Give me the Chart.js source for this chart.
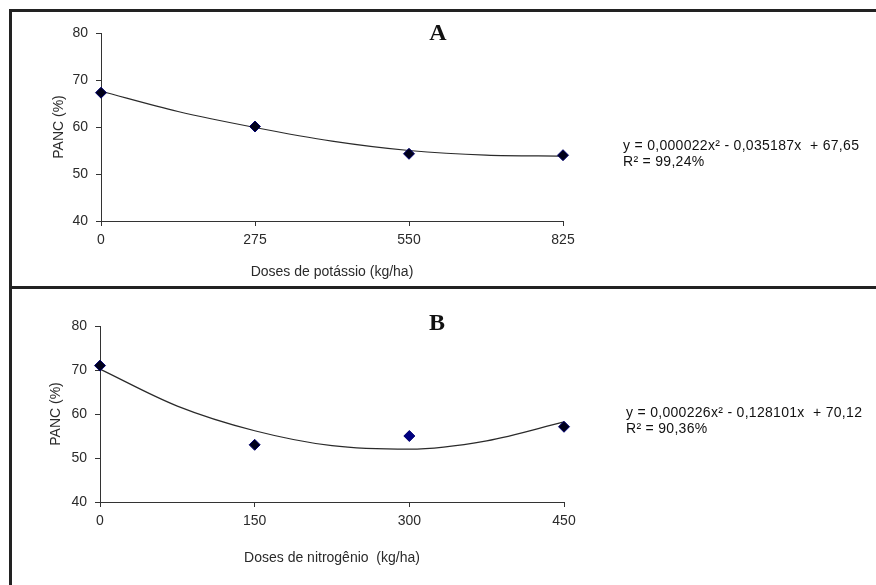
<!DOCTYPE html>
<html><head><meta charset="utf-8">
<script src="https://cdn.jsdelivr.net/npm/chart.js@4.4.1/dist/chart.umd.min.js"></script>
<style>
html,body{margin:0;padding:0;background:#fff;width:876px;height:585px;overflow:hidden;position:relative;font-family:"Liberation Sans",Arial,sans-serif;}
canvas{position:absolute;left:0}
.ln{position:absolute;background:#222}
.lbl{position:absolute;font-family:"Liberation Serif","Times New Roman",serif;font-weight:bold;font-size:24px;color:#111;transform:translate(-50%,-50%);line-height:1}
.eq{position:absolute;font-size:14px;line-height:16px;letter-spacing:0.3px;color:#111;white-space:pre}
</style></head><body>
<canvas id="cA" width="876" height="290" style="top:0"></canvas>
<canvas id="cB" width="876" height="295" style="top:290px"></canvas>
<div class="ln" style="left:9px;top:9px;width:867px;height:3px"></div>
<div class="ln" style="left:9px;top:9px;width:3px;height:576px"></div>
<div class="ln" style="left:9px;top:286px;width:867px;height:3px"></div>
<div class="lbl" style="left:438px;top:32px">A</div>
<div class="lbl" style="left:437px;top:322px">B</div>
<div class="eq" style="left:623px;top:137px">y = 0,000022x² - 0,035187x  + 67,65
R² = 99,24%</div>
<div class="eq" style="left:626px;top:404px">y = 0,000226x² - 0,128101x  + 70,12
R² = 90,36%</div>
<script>
// Panel A: potassium
const doseK = [0, 275, 550, 825];
const pancK = [67.3, 60.1, 54.3, 54.0];
const trendKx = [0, 137.5, 275, 412.5, 550, 687.5, 825];
const trendKy = [67.6, 63.3, 59.9, 57.0, 55.0, 54.0, 53.8];
const ticksK = [0, 275, 550, 825];
// Panel B: nitrogen
const doseN = [0, 150, 300, 450];
const pancN = [71.0, 53.0, 55.0, 57.1];
const trendNx = [0, 75, 150, 225, 300, 375, 450];
const trendNy = [70.2, 61.8, 56.2, 52.8, 52.0, 53.9, 58.2];
const ticksN = [0, 150, 300, 450];
const ticksY = [40, 50, 60, 70, 80];

const FONT = {family: '"Liberation Sans", Arial, sans-serif', size: 14};
const TXT = '#2a2a2a';

function zip(xs, ys){ return xs.map((x,i)=>({x, y: ys[i]})); }

function makeChart(id, g){
  const lh = FONT.size * 1.2;
  return new Chart(document.getElementById(id), {
    type: 'scatter',
    data: { datasets: [
      { data: zip(g.px, g.py), pointStyle: 'rectRot', pointRadius: 5.5, pointHoverRadius: 5.5,
        pointBackgroundColor: g.pc, pointBorderColor: '#000070', pointBorderWidth: 1, showLine: false, clip: false, order: 0 },
      { data: zip(g.tx, g.ty), showLine: true, pointRadius: 0, borderColor: '#2a2a2a', borderWidth: 1.2,
        cubicInterpolationMode: 'monotone', fill: false, clip: false, order: 1 }
    ]},
    options: {
      responsive: false, animation: false, devicePixelRatio: 1,
      events: [],
      layout: { padding: { left: 0, top: g.top, right: g.W - g.right, bottom: 0 } },
      plugins: { legend: {display: false}, tooltip: {enabled: false} },
      scales: {
        x: { type: 'linear', min: 0, max: g.xmax,
          afterBuildTicks: s => { s.ticks = g.xt.map(v => ({value: v})); },
          afterFit: s => { s.height = g.H - g.bottom; },
          ticks: { font: FONT, color: TXT, padding: 6, maxRotation: 0, autoSkip: false },
          grid: { drawOnChartArea: false, drawTicks: true, tickLength: 5, color: '#333' },
          border: { display: true, color: '#333', width: 1 },
          title: { display: true, text: g.xtitle, font: FONT, color: TXT,
                   padding: { top: 0, bottom: (g.H - g.xtc) - lh/2 } } },
        y: { type: 'linear', min: 40, max: 80,
          afterBuildTicks: s => { s.ticks = ticksY.map(v => ({value: v})); },
          afterFit: s => { s.width = g.left; },
          ticks: { font: FONT, color: TXT, padding: 8 },
          grid: { drawOnChartArea: false, drawTicks: true, tickLength: 5, color: '#333' },
          border: { display: true, color: '#333', width: 1 },
          title: { display: true, text: 'PANC (%)', font: FONT, color: TXT,
                   padding: { top: g.ytc - lh/2, bottom: 0 } } }
      }
    }
  });
}

makeChart('cA', { W: 876, H: 290, left: 101, right: 563, top: 33, bottom: 221, ytc: 59.5, xtc: 272,
  xmax: 825, xt: ticksK, xtitle: 'Doses de potássio (kg/ha)',
  px: doseK, py: pancK, tx: trendKx, ty: trendKy,
  pc: ['#00001a','#00001a','#00001a','#00001a'] });

makeChart('cB', { W: 876, H: 295, left: 100, right: 564, top: 36, bottom: 212, ytc: 56, xtc: 268,
  xmax: 450, xt: ticksN, xtitle: 'Doses de nitrogênio  (kg/ha)',
  px: doseN, py: pancN, tx: trendNx, ty: trendNy,
  pc: ['#00001a','#00001a','#000080','#00001a'] });
</script>
</body></html>
